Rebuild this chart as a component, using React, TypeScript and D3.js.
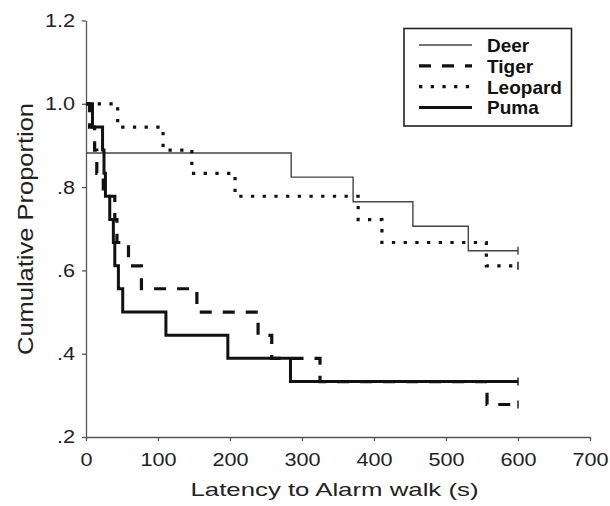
import * as d3 from 'd3'
import React, { useRef, useEffect } from 'react'

// Kaplan-Meier steps: value holds from each time until the next one
const deerTimes = [0, 285, 371, 454, 531, 600]
const deerValues = [0.882, 0.824, 0.765, 0.706, 0.647, 0.647]

const tigerTimes = [0, 5, 12, 15, 24, 40, 43, 59, 77, 154, 239, 258, 325, 557, 600]
const tigerValues = [1.0, 0.944, 0.889, 0.833, 0.778, 0.722, 0.667, 0.611, 0.556, 0.5, 0.444, 0.389, 0.333, 0.278, 0.278]

const leopardTimes = [0, 44, 107, 147, 207, 378, 411, 556, 600]
const leopardValues = [1.0, 0.944, 0.889, 0.833, 0.778, 0.722, 0.667, 0.611, 0.611]

const pumaTimes = [0, 9, 23, 25, 27, 33, 38, 40, 45, 51, 111, 197, 284, 600]
const pumaValues = [1.0, 0.944, 0.889, 0.833, 0.778, 0.722, 0.667, 0.611, 0.556, 0.5, 0.444, 0.389, 0.333, 0.333]

const seriesNames = ['Deer', 'Tiger', 'Leopard', 'Puma']
const xTicks = [0, 100, 200, 300, 400, 500, 600, 700]
const yTicks = [0.2, 0.4, 0.6, 0.8, 1.0, 1.2]

const FONT = '"Liberation Sans", Arial, sans-serif'

export default function App() {
    const ref = useRef<SVGSVGElement>(null)

    useEffect(() => {
        const svg = d3.select(ref.current)
        svg.selectAll('*').remove()

        const x = d3.scaleLinear().domain([0, 700]).range([86, 590])
        const y = d3.scaleLinear().domain([0.2, 1.2]).range([437, 20.5])

        const series = [
            { name: seriesNames[0], times: deerTimes, values: deerValues, width: 1.4, dash: null, color: '#444' },
            { name: seriesNames[1], times: tigerTimes, values: tigerValues, width: 3.2, dash: '12 11', color: '#111' },
            { name: seriesNames[2], times: leopardTimes, values: leopardValues, width: 3.2, dash: '3.3 8.4', color: '#111' },
            { name: seriesNames[3], times: pumaTimes, values: pumaValues, width: 3, dash: null, color: '#111' },
        ]

        // axes
        const xAxis = svg.append('g')
            .attr('transform', 'translate(0,437)')
            .call(d3.axisBottom(x).tickValues(xTicks).tickSize(4).tickSizeOuter(0).tickPadding(12))
        const yAxis = svg.append('g')
            .attr('transform', 'translate(86,0)')
            .call(d3.axisLeft(y).tickValues(yTicks).tickSize(4).tickSizeOuter(0)
                .tickFormat((d: any) => d >= 1 ? d3.format('.1f')(d) : d3.format('.1f')(d).slice(1)))

        for (const g of [xAxis, yAxis]) {
            g.select('.domain').attr('stroke', '#555').attr('stroke-width', 1.3)
            g.selectAll('.tick line').attr('stroke', '#555').attr('stroke-width', 1.3)
            g.selectAll('.tick text')
                .attr('fill', '#222')
                .style('font-family', FONT)
                .style('font-size', '18.5px')
                .attr('transform', 'scale(1.17,1)')
        }
        yAxis.selectAll('.tick text').attr('x', -9.4)

        // curves
        const line = d3.line<[number, number]>()
            .x(d => x(d[0]))
            .y(d => y(d[1]))
            .curve(d3.curveStepAfter)

        series.forEach(s => {
            const pts = s.times.map((t, i) => [t, s.values[i]] as [number, number])
            svg.append('path')
                .attr('d', line(pts))
                .attr('fill', 'none')
                .attr('stroke', s.color)
                .attr('stroke-width', s.width)
                .attr('stroke-dasharray', s.dash)
            const last = pts[pts.length - 1]
            svg.append('line')
                .attr('x1', x(last[0])).attr('x2', x(last[0]))
                .attr('y1', y(last[1]) - 4).attr('y2', y(last[1]) + 4)
                .attr('stroke', s.color)
                .attr('stroke-width', 1.4)
        })

        // legend
        const lg = svg.append('g')
        lg.append('rect')
            .attr('x', 404).attr('y', 28.5)
            .attr('width', 167.5).attr('height', 97.5)
            .attr('fill', '#fff').attr('stroke', '#222').attr('stroke-width', 1.6)
        series.forEach((s, i) => {
            const ly = 45 + i * 20.8
            lg.append('line')
                .attr('x1', 419).attr('x2', 472)
                .attr('y1', ly).attr('y2', ly)
                .attr('stroke', s.color)
                .attr('stroke-width', s.width)
                .attr('stroke-dasharray', s.dash)
            lg.append('text')
                .attr('x', 487).attr('y', ly + 7)
                .style('font-family', FONT)
                .style('font-size', '19px')
                .style('font-weight', 'bold')
                .attr('fill', '#111')
                .text(s.name)
        })

        // axis titles
        svg.append('text')
            .attr('x', 334.5).attr('y', 496)
            .attr('text-anchor', 'middle')
            .attr('textLength', 288).attr('lengthAdjust', 'spacingAndGlyphs')
            .style('font-family', FONT).style('font-size', '19px')
            .attr('fill', '#222')
            .text('Latency to Alarm walk (s)')
        svg.append('text')
            .attr('transform', 'translate(33,229) rotate(-90)')
            .attr('text-anchor', 'middle')
            .attr('textLength', 252).attr('lengthAdjust', 'spacingAndGlyphs')
            .style('font-family', FONT).style('font-size', '22px')
            .attr('fill', '#222')
            .text('Cumulative Proportion')
    }, [])

    return <svg ref={ref} width={610} height={506}
        style={{ position: 'absolute', left: 0, top: 0, background: '#fff' }} />
}
